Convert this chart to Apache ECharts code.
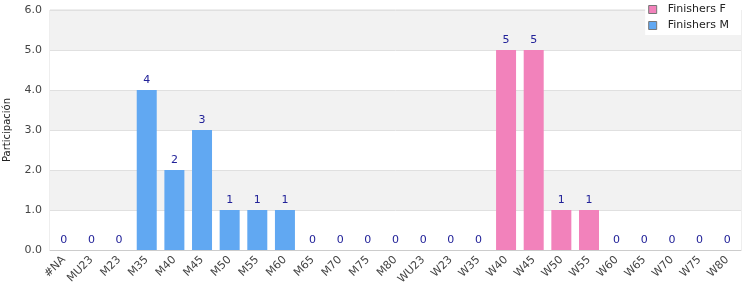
<!DOCTYPE html>
<html><head><meta charset="utf-8">
<script src="https://cdn.jsdelivr.net/npm/echarts@6/dist/echarts.min.js"></script>
<style>html,body{margin:0;padding:0;background:#fff}#c{width:750px;height:300px}</style>
</head><body><div id="c"></div>
<script>
const categories = ["#NA","MU23","M23","M35","M40","M45","M50","M55","M60","M65","M70","M75","M80","WU23","W23","W35","W40","W45","W50","W55","W60","W65","W70","W75","W80"];
const finishersM = [0,0,0,4,2,3,1,1,1,0,0,0,0,null,null,null,null,null,null,null,null,null,null,null,null];
const finishersF = [null,null,null,null,null,null,null,null,null,null,null,null,null,0,0,0,5,5,1,1,0,0,0,0,0];

const chart = echarts.init(document.getElementById('c'), null, {renderer:'canvas'});
const font = 'DejaVu Sans';
const lbl = {show:true, position:'top', color:'#222299', fontFamily:font, fontSize:11, distance:4};
chart.setOption({
  animation:false,
  textStyle:{fontFamily:font},
  grid:{left:50,right:9,top:10,bottom:50,show:true,borderColor:'#dddddd',borderWidth:1,containLabel:false,outerBoundsMode:'none'},
  legend:{orient:'vertical',right:9,top:0,backgroundColor:'#fff',padding:[4,12,4,3],itemGap:5,
    itemWidth:8,itemHeight:8,icon:'rect',textStyle:{fontFamily:font,fontSize:11,color:'#222',padding:[0,0,0,6]},
    data:['Finishers F','Finishers M']},
  xAxis:{type:'category',data:categories,
    axisLine:{lineStyle:{color:'#ccc'}},axisTick:{show:false},
    axisLabel:{rotate:45,color:'#444',fontSize:11,fontFamily:font,interval:0,margin:8}},
  yAxis:{type:'value',min:0,max:6,interval:1,name:'Participación',nameLocation:'middle',nameGap:38,
    nameTextStyle:{color:'#222',fontSize:10,fontFamily:font},
    axisLabel:{formatter:v=>v.toFixed(1),color:'#444',fontSize:11,fontFamily:font,margin:8},
    axisLine:{show:false},axisTick:{show:false},
    splitLine:{lineStyle:{color:'#e0e0e0'}},
    splitArea:{show:true,areaStyle:{color:['#ffffff','#f2f2f2']}}},
  series:[
    {name:'Finishers F',type:'bar',stack:'a',data:finishersF,barWidth:20,
      itemStyle:{color:'#f282bb',borderWidth:0},label:lbl},
    {name:'Finishers M',type:'bar',stack:'a',data:finishersM,barWidth:20,
      itemStyle:{color:'#61a8f2',borderWidth:0},label:lbl}
  ]
});
chart.setOption({legend:{data:[
  {name:'Finishers F',itemStyle:{color:'#f282bb',borderColor:'#777',borderWidth:1}},
  {name:'Finishers M',itemStyle:{color:'#61a8f2',borderColor:'#777',borderWidth:1}}]}});
</script></body></html>
